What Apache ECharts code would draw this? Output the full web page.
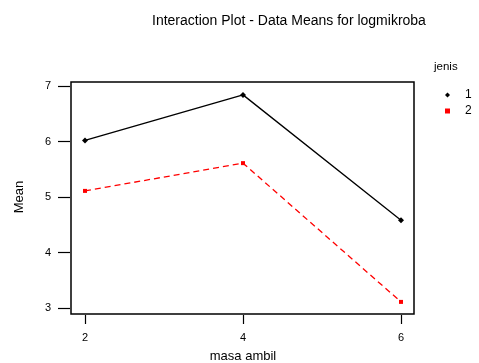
<!DOCTYPE html>
<html><head><meta charset="utf-8">
<script src="https://cdn.jsdelivr.net/npm/echarts@6/dist/echarts.min.js"></script>
<style>html,body{margin:0;padding:0;background:#fff}#c{width:479px;height:363px}</style>
</head><body><div id="c"></div>
<script>
var categories = [2, 4, 6];
var jenis1 = [6.02, 6.84, 4.58];
var jenis2 = [5.11, 5.61, 3.11];
var yTicks = [3, 4, 5, 6, 7];

function pairs(vals){ return categories.map(function(c,i){ return [c, vals[i]]; }); }

var chart = echarts.init(document.getElementById('c'));
var font = 'Liberation Sans, Arial, sans-serif';
chart.setOption({
  animation: false,
  title: { text: 'Interaction Plot - Data Means for logmikroba', left: 147, top: 9,
    textStyle: { fontFamily: font, fontSize: 14, fontWeight: 'normal', color: '#000' } },
  grid: [
    { left: 85, right: 78, top: 86, bottom: 55, outerBoundsMode: 'none', containLabel: false },
    { left: 71, right: 65, top: 82, bottom: 49, outerBoundsMode: 'none', containLabel: false,
      show: true, borderColor: '#000', borderWidth: 1.5, backgroundColor: 'transparent' }
  ],
  xAxis: [
    { type: 'value', gridIndex: 0, min: 2, max: 6, interval: 2, offset: 7,
      name: 'masa ambil', nameLocation: 'middle', nameGap: 35,
      nameTextStyle: { fontFamily: font, fontSize: 13, color: '#000' },
      axisLine: { show: false }, axisTick: { show: true, length: 9, lineStyle: { color: '#000', width: 1.2 } },
      axisLabel: { margin: 17, fontFamily: font, fontSize: 11, color: '#000' }, splitLine: { show: false } },
    { type: 'value', gridIndex: 1, show: false }
  ],
  yAxis: [
    { type: 'value', gridIndex: 0, min: yTicks[0], max: yTicks[yTicks.length-1], interval: 1, offset: 15,
      name: 'Mean', nameLocation: 'middle', nameGap: 44,
      nameTextStyle: { fontFamily: font, fontSize: 13, color: '#000' },
      axisLine: { show: false }, axisTick: { show: true, length: 12, lineStyle: { color: '#000', width: 1.2 } },
      axisLabel: { margin: 19, fontFamily: font, fontSize: 11, color: '#000' }, splitLine: { show: false } },
    { type: 'value', gridIndex: 1, show: false }
  ],
  legend: {
    orient: 'vertical', left: 440, top: 84, itemWidth: 5, itemHeight: 5, itemGap: 4,
    textStyle: { fontFamily: font, fontSize: 12, color: '#000', padding: [0,0,0,10] },
    data: [ { name: '1', icon: 'diamond' }, { name: '2', icon: 'rect' } ]
  },
  graphic: [
    { type: 'text', left: 434, top: 61, style: { text: 'jenis', font: '11.5px ' + font, fill: '#000' } }
  ],
  series: [
    { name: '1', type: 'line', xAxisIndex: 0, yAxisIndex: 0, data: pairs(jenis1),
      symbol: 'diamond', symbolSize: 6, itemStyle: { color: '#000' },
      lineStyle: { color: '#000', width: 1.3, type: 'solid' } },
    { name: '2', type: 'line', xAxisIndex: 0, yAxisIndex: 0, data: pairs(jenis2),
      symbol: 'rect', symbolSize: 4, itemStyle: { color: '#ff0000' },
      lineStyle: { color: '#ff0000', width: 1.3, type: [6, 4] } }
  ]
});
</script></body></html>
